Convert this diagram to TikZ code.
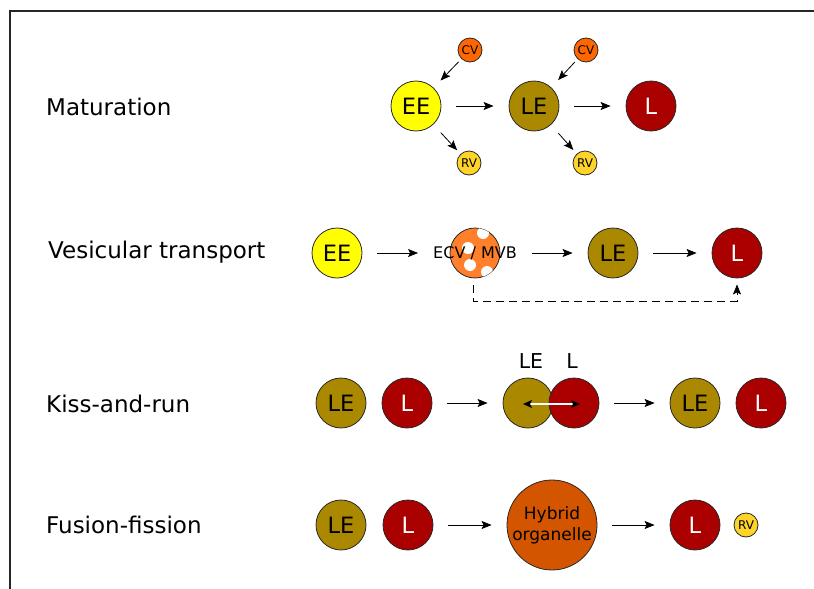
\documentclass[tikz,border=0pt]{standalone}
\usepackage{fontspec}
\setmainfont{DejaVu Sans}
\usepackage{tikz}
\usetikzlibrary{shapes.geometric, arrows.meta, positioning}
\definecolor{eecolor}{RGB}{255, 255, 0}
\definecolor{lecolor}{RGB}{170, 136, 0}
\definecolor{lcolor}{RGB}{170, 0, 0}
\definecolor{cvcolor}{RGB}{255, 102, 0}
\definecolor{rvcolor}{RGB}{255, 212, 42}
\definecolor{ecvcolor}{RGB}{255, 127, 42}
\definecolor{hybridcolor}{RGB}{212, 85, 0}
\definecolor{circborder}{RGB}{40, 40, 40}
\tikzstyle{organelle} = [circle, draw=circborder, line width=0.8pt, inner sep=0pt,
                         minimum size=50pt, font=\fontsize{22.5}{22.5}\selectfont]
\tikzstyle{vesicle} = [circle, draw=circborder, line width=0.8pt, inner sep=0pt,
                       minimum size=24pt, font=\fontsize{12}{12}\selectfont]
\tikzstyle{rowlabel} = [anchor=base west, inner sep=0pt, font=\fontsize{23}{23}\selectfont]
\tikzstyle{arrow} = [-{Stealth[length=10pt, width=8pt, inset=2pt]}, line width=0.8pt]
\tikzstyle{gap} = [shorten <=15pt, shorten >=15pt]

\begin{document}
\begin{tikzpicture}[x=1pt, y=-1pt]
    \useasboundingbox (0,0) rectangle (814,589);
    \draw[line width=1.5pt, black!85] (10,589) -- (10,11) -- (814,11);

    % row labels
    \node[rowlabel] (tMat) at (46,115) {Maturation};
    \node[rowlabel] (tVes) at (48,258) {Vesicular transport};
    \node[rowlabel] (tKiss) at (46,412) {Kiss-and-run};
    \node[rowlabel] (tFus) at (46,533) {Fusion-fission};

    % maturation
    \node[organelle, fill=eecolor] (mEE) at (416,106) {EE};
    \node[organelle, fill=lecolor] (mLE) at (534,106) {LE};
    \node[organelle, fill=lcolor, text=white] (mL) at (651,106) {L};
    \node[vesicle, fill=cvcolor] (mCVa) at (470,50) {CV};
    \node[vesicle, fill=cvcolor] (mCVb) at (586,50) {CV};
    \node[vesicle, fill=rvcolor] (mRVa) at (469,163) {RV};
    \node[vesicle, fill=rvcolor] (mRVb) at (585,163) {RV};
    \draw[arrow, gap] (mEE) -- (mLE);
    \draw[arrow, gap] (mLE) -- (mL);
    \draw[arrow, shorten <=4pt, shorten >=10pt] (mCVa) -- (mEE);
    \draw[arrow, shorten <=4pt, shorten >=10pt] (mCVb) -- (mLE);
    \draw[arrow, shorten <=11pt, shorten >=5pt] (mEE) -- (mRVa);
    \draw[arrow, shorten <=11pt, shorten >=5pt] (mLE) -- (mRVb);

    % vesicular transport
    \node[organelle, fill=eecolor] (vEE) at (337,253) {EE};
    \node[organelle, fill=ecvcolor] (vECV) at (475,253) {};
    \begin{scope}
        \clip (475,253) circle (25);
        \foreach \dx/\dy in {483/233, 468/248, 470/265, 487/272}
            \fill[white] (\dx,\dy) circle (6);
    \end{scope}
    \node[font=\fontsize{16}{16}\selectfont, inner sep=0pt] (vECVtext) at (vECV) {ECV / MVB};
    \node[organelle, fill=lecolor] (vLE) at (613,253) {LE};
    \node[organelle, fill=lcolor, text=white] (vL) at (737,253) {L};
    \draw[arrow, gap] (vEE) -- (vECVtext);
    \draw[arrow, gap] (vECVtext) -- (vLE);
    \draw[arrow, gap] (vLE) -- (vL);
    \draw[arrow, dash pattern=on 8pt off 5pt, shorten >=6pt]
        (vECV.south) ++(-2,7) -- ++(0,16) -| (vL.south);

    % kiss-and-run
    \node[organelle, fill=lecolor] (kLEa) at (341,403) {LE};
    \node[organelle, fill=lcolor, text=white] (kLa) at (407,403) {L};
    \node[organelle, fill=lecolor] (kLEb) at (528,403) {};
    \node[organelle, fill=lcolor] (kLb) at (574,403) {};
    \node[font=\fontsize{20.5}{20.5}\selectfont] (kLEtext) at (531,361) {LE};
    \node[font=\fontsize{20.5}{20.5}\selectfont] (kLtext) at (572,361) {L};
    \draw[{Stealth[black, length=9pt, width=8pt, inset=2pt]}-{Stealth[black, length=9pt, width=8pt, inset=2pt]},
          draw=white, line width=1.2pt, shorten <=-5pt, shorten >=-6pt]
        ([yshift=-1pt]kLEb.center) -- ([yshift=-1pt]kLb.center);
    \node[organelle, fill=lecolor] (kLEc) at (695,403) {LE};
    \node[organelle, fill=lcolor, text=white] (kLc) at (761,403) {L};
    \draw[arrow, gap] (kLa) -- (kLEb);
    \draw[arrow, gap] (kLb) -- (kLEc);

    % fusion-fission
    \node[organelle, fill=lecolor] (fLE) at (341,525) {LE};
    \node[organelle, fill=lcolor, text=white] (fL) at (408,525) {L};
    \node[organelle, fill=hybridcolor, minimum size=90pt, align=center,
          font=\fontsize{17}{21}\selectfont] (fHyb) at (552,525) {Hybrid\\organelle};
    \node[organelle, fill=lcolor, text=white] (fLb) at (695,525) {L};
    \node[vesicle, fill=rvcolor] (fRV) at (746,525) {RV};
    \draw[arrow, gap] (fL) -- (fHyb);
    \draw[arrow, gap] (fHyb) -- (fLb);
\end{tikzpicture}
\end{document}
